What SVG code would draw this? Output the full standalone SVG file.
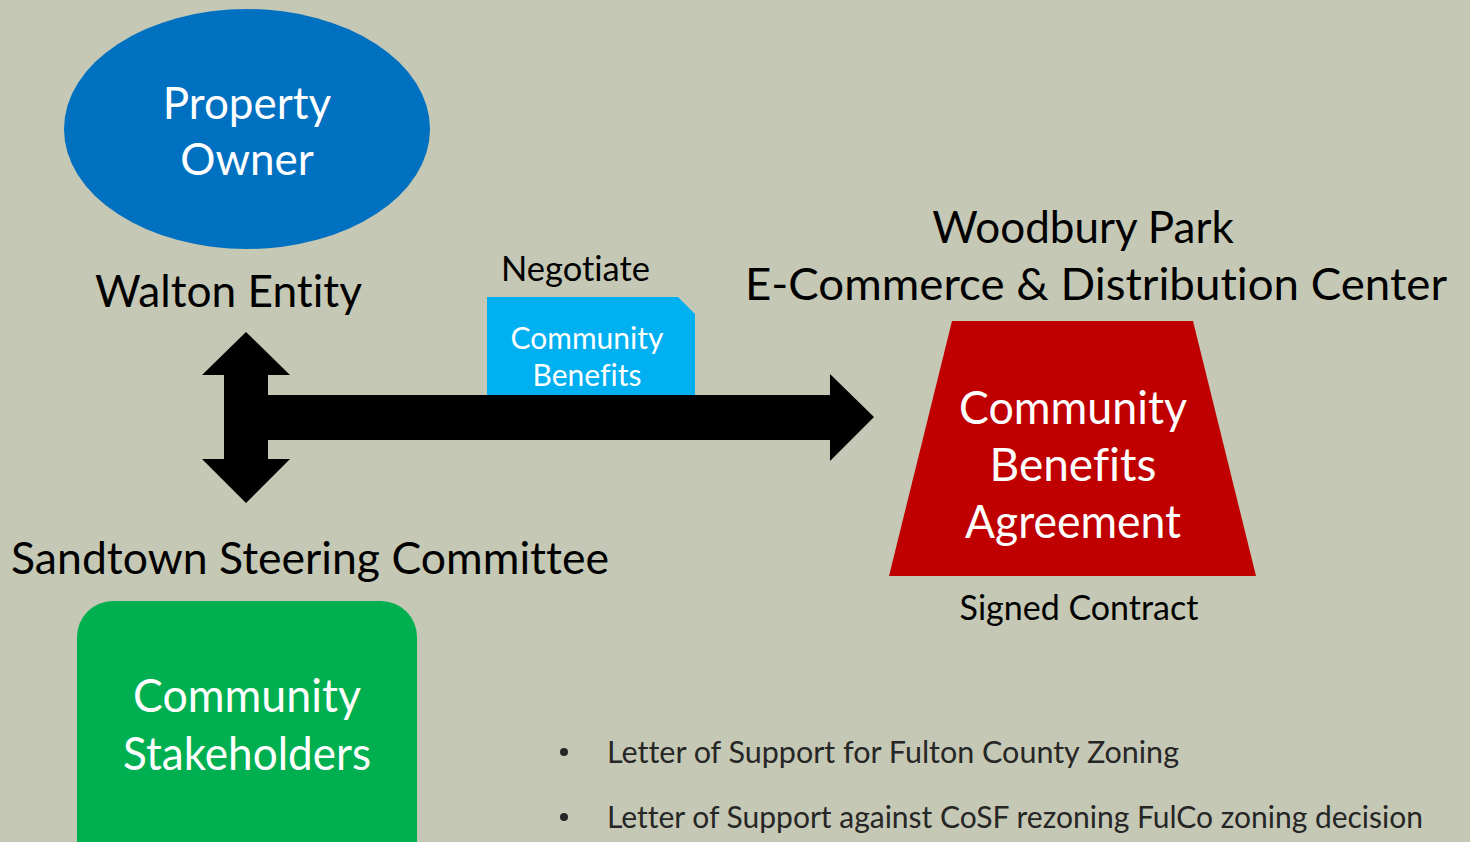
<svg xmlns="http://www.w3.org/2000/svg" width="1470" height="842" viewBox="0 0 1470 842">
<style>
text{font-family:Lato,"Open Sans","Liberation Sans",sans-serif;font-variant-ligatures:none}
.w{fill:#ffffff;text-anchor:middle}
.k{fill:#000000}
.b{fill:#262626}
</style>
<rect width="1470" height="842" fill="#C5C8B4"/>
<g id="property-owner">
<ellipse cx="247" cy="129" rx="183" ry="120" fill="#0070C0"/>
<text class="w" x="247" y="119" font-size="44">Property</text>
<text class="w" x="247" y="175" font-size="44">Owner</text>
</g>
<g id="walton-label"><text class="k" x="95" y="307" font-size="44" textLength="267" lengthAdjust="spacingAndGlyphs">Walton Entity</text></g>
<g id="negotiate-label"><text class="k" x="501" y="281" font-size="34" textLength="149" lengthAdjust="spacingAndGlyphs">Negotiate</text></g>
<g id="community-benefits-doc">
<path d="M487,297 H678 L695,314 V400 H487 Z" fill="#00B0F0"/>
<text class="w" x="587" y="349" font-size="30">Community</text>
<text class="w" x="587" y="386" font-size="30">Benefits</text>
</g>
<g id="connectors">
<path d="M246,332 L290,375 H268 V395 H830 V374 L874,417 L830,461 V440 H268 V459 H290 L246,503 L202,459 H224 V375 H202 Z" fill="#000000"/>
</g>
<g id="woodbury-label">
<text class="k" x="1083" y="243" font-size="44" text-anchor="middle">Woodbury Park</text>
<text class="k" x="745" y="300" font-size="44" textLength="702" lengthAdjust="spacingAndGlyphs">E-Commerce &amp; Distribution Center</text>
</g>
<g id="cba">
<path d="M952,321 H1193 L1256,576 H889 Z" fill="#C00000"/>
<text class="w" x="1073" y="424" font-size="46" textLength="228" lengthAdjust="spacingAndGlyphs">Community</text>
<text class="w" x="1073" y="481" font-size="46">Benefits</text>
<text class="w" x="1073" y="538" font-size="46" textLength="216" lengthAdjust="spacingAndGlyphs">Agreement</text>
</g>
<g id="signed-label"><text class="k" x="1079" y="620" font-size="34" text-anchor="middle">Signed Contract</text></g>
<g id="sandtown-label"><text class="k" x="11" y="574" font-size="44" textLength="598" lengthAdjust="spacingAndGlyphs">Sandtown Steering Committee</text></g>
<g id="community-stakeholders">
<rect x="77" y="601" width="340" height="280" rx="36" fill="#00B050"/>
<text class="w" x="247" y="712" font-size="46" textLength="228" lengthAdjust="spacingAndGlyphs">Community</text>
<text class="w" x="247" y="770" font-size="46" textLength="248" lengthAdjust="spacingAndGlyphs">Stakeholders</text>
</g>
<g id="bullets">
<circle cx="564" cy="752" r="4" fill="#262626"/>
<text class="b" x="607" y="763" font-size="30" textLength="572" lengthAdjust="spacingAndGlyphs">Letter of Support for Fulton County Zoning</text>
<circle cx="564" cy="817" r="4" fill="#262626"/>
<text class="b" x="607" y="828" font-size="30" textLength="816" lengthAdjust="spacingAndGlyphs">Letter of Support against CoSF rezoning FulCo zoning decision</text>
</g>
</svg>
